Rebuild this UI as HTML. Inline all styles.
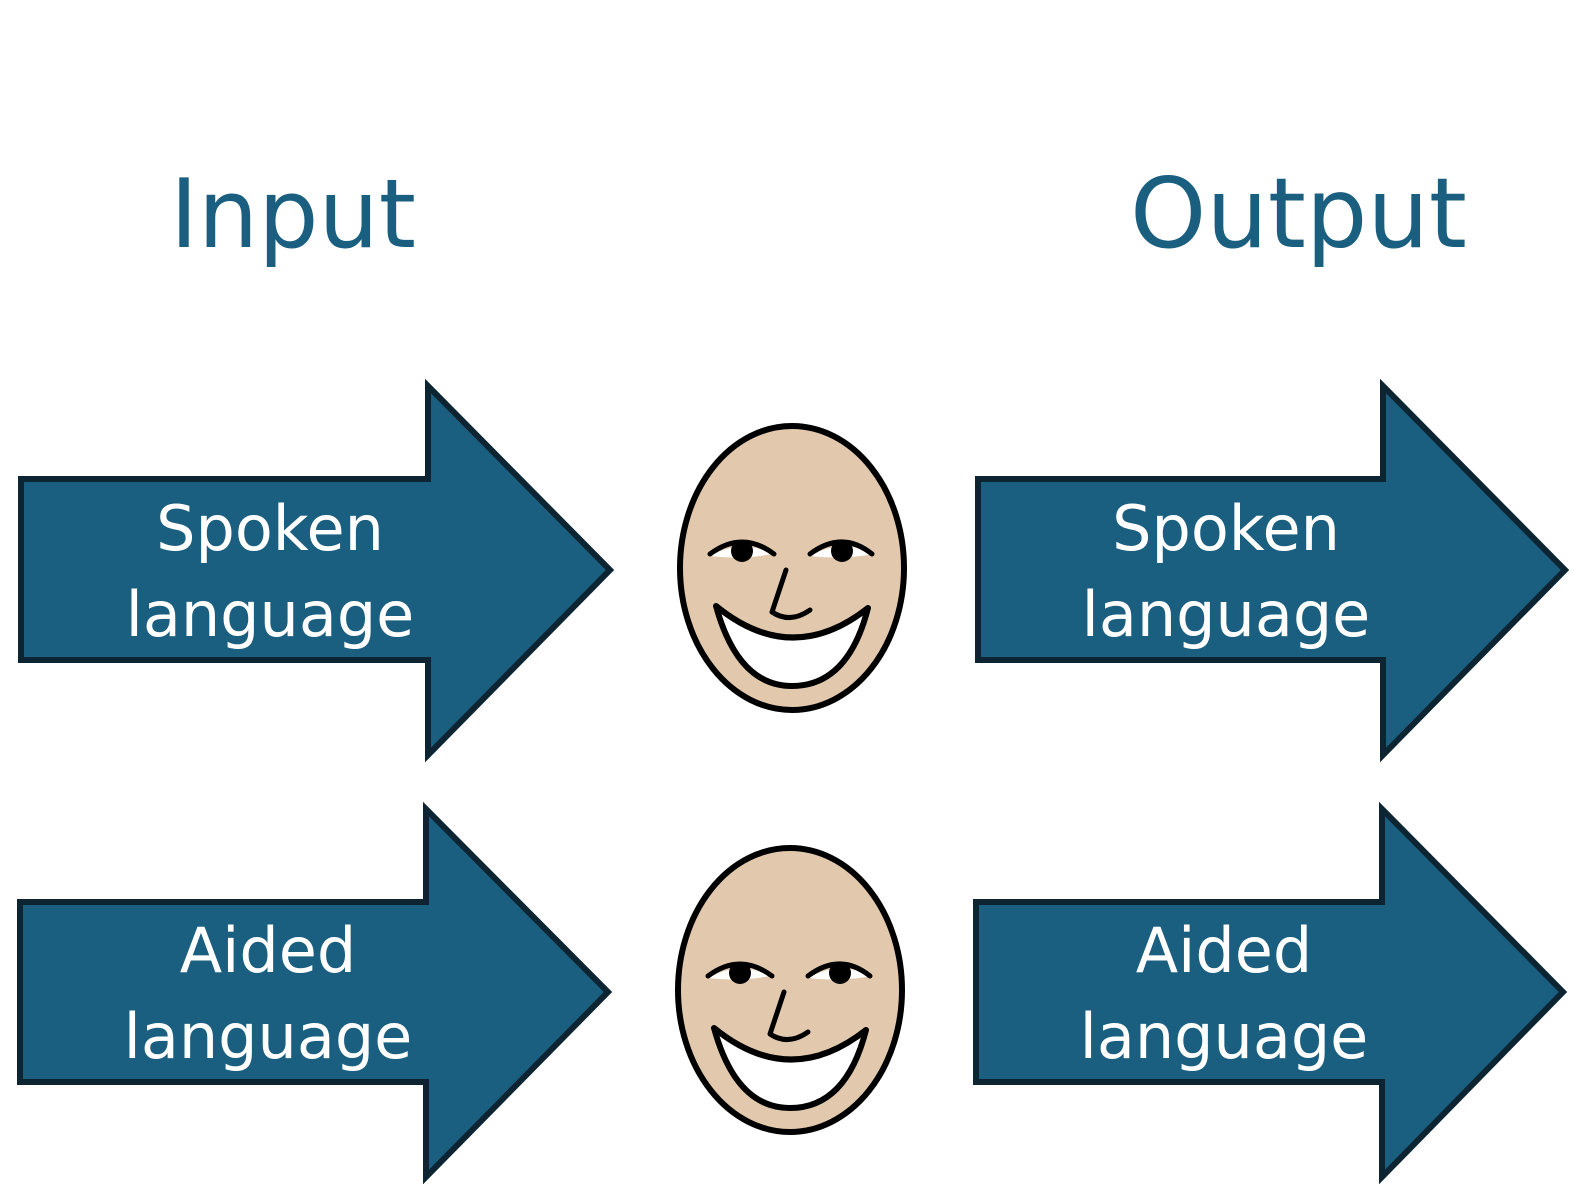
<!DOCTYPE html>
<html><head><meta charset="utf-8"><style>
html,body{margin:0;padding:0;background:#fff;}
svg{display:block;}
</style></head><body>
<svg width="1573" height="1184" viewBox="0 0 1573 1184" xmlns="http://www.w3.org/2000/svg">
<defs>
<g id="face">
  <ellipse cx="0" cy="0" rx="112" ry="142" fill="#e2c9ad" stroke="#000" stroke-width="6"/>
  <path d="M-82 -12 Q-50 -30 -20 -14 Q-50 -8 -82 -12Z" fill="#fff"/>
  <path d="M18 -12 Q50 -30 82 -14 Q50 -8 18 -12Z" fill="#fff"/>
  <path d="M-82 -14 Q-50 -38 -18 -14" fill="none" stroke="#000" stroke-width="5" stroke-linecap="round"/>
  <path d="M18 -14 Q50 -38 80 -14" fill="none" stroke="#000" stroke-width="5" stroke-linecap="round"/>
  <circle cx="-50" cy="-17" r="11" fill="#000"/>
  <circle cx="50" cy="-17" r="11" fill="#000"/>
  <path d="M-6 2 L-20 44 Q-2 56 18 42" fill="none" stroke="#000" stroke-width="5" stroke-linecap="round" stroke-linejoin="round"/>
  <path d="M-76 38 Q0 100 76 40 Q56 118 0 118 Q-54 118 -76 38Z" fill="#fff" stroke="#000" stroke-width="6" stroke-linejoin="round"/>
</g>
</defs>
<g fill="#1a5f80" font-family="'DejaVu Sans','Liberation Sans',sans-serif">
  <text x="170" y="247" font-size="95">Input</text>
  <text x="1130" y="247" font-size="97">Output</text>
</g>
<g fill="#1a5f80" stroke="#0d2533" stroke-width="6" stroke-linejoin="miter">
  <polygon points="21,479 428,479 428,386 610,570 428,755 428,660 21,660"/>
  <polygon points="978,479 1383,479 1383,386 1565,570 1383,755 1383,660 978,660"/>
  <polygon points="20,902 426,902 426,809 608,992 426,1177 426,1082 20,1082"/>
  <polygon points="976,902 1382,902 1382,809 1563,992 1382,1177 1382,1082 976,1082"/>
</g>
<g fill="#fff" font-family="'DejaVu Sans','Liberation Sans',sans-serif" font-size="62" text-anchor="middle">
  <text x="270" y="550">Spoken</text>
  <text x="270" y="636">language</text>
  <text x="1226" y="550">Spoken</text>
  <text x="1226" y="636">language</text>
  <text x="268" y="972">Aided</text>
  <text x="268" y="1058">language</text>
  <text x="1224" y="972">Aided</text>
  <text x="1224" y="1058">language</text>
</g>
<use href="#face" x="792" y="568"/>
<use href="#face" x="790" y="990"/>
</svg>
</body></html>
